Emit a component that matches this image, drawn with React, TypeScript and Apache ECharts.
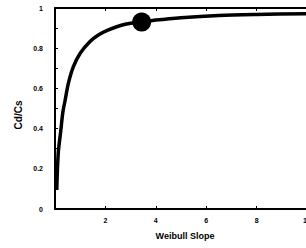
import React, { useEffect, useRef } from "react";
import * as echarts from "echarts";

const slopes = [0.07, 0.13, 0.23, 0.31, 0.4, 0.53, 0.73, 1.0, 1.39, 1.72, 2.1, 2.6, 3.0, 3.44, 4.0, 5.0, 6.5, 8.0, 10];
const ratios = [0.095, 0.28, 0.39, 0.48, 0.54, 0.625, 0.708, 0.775, 0.833, 0.866, 0.89, 0.913, 0.924, 0.93, 0.94, 0.952, 0.963, 0.968, 0.972];
const marker = [[3.44, 0.93]];
const xTicks = [2, 4, 6, 8, 10];
const yTicks = [0, 0.2, 0.4, 0.6, 0.8, 1];

export default function App() {
  const ref = useRef<HTMLDivElement>(null);
  useEffect(() => {
    const chart = echarts.init(ref.current!, null, { renderer: "svg" });
    const font = "Arial, 'Liberation Sans', sans-serif";
    chart.setOption({
      animation: false,
      backgroundColor: "#fff",
      grid: { left: 55, top: 8, width: 252, height: 201, outerBoundsMode: "none", containLabel: false },
      xAxis: [
        {
          type: "value",
          min: 0,
          max: 10,
          interval: 2,
          axisLine: { show: true, onZero: false, lineStyle: { color: "#000", width: 2 } },
          axisTick: { show: true, inside: true, length: 3, lineStyle: { color: "#000" } },
          axisLabel: {
            color: "#000",
            fontSize: 7,
            fontWeight: "bold",
            fontFamily: font,
            margin: 8,
            showMinLabel: false,
            hideOverlap: false,
            formatter: (v: number) => (xTicks.includes(v) ? String(v) : ""),
          },
          splitLine: { show: false },
        },
        {
          type: "value",
          position: "top",
          min: 0,
          max: 10,
          interval: 2,
          axisLine: { show: true, onZero: false, lineStyle: { color: "#000", width: 2 } },
          axisTick: { show: true, inside: true, length: 3, lineStyle: { color: "#000" } },
          axisLabel: { show: false },
          splitLine: { show: false },
        },
      ],
      yAxis: {
        type: "value",
        min: 0,
        max: 1,
        interval: 0.2,
        axisLine: { show: true, onZero: false, lineStyle: { color: "#000", width: 2 } },
        axisTick: { show: true, inside: true, length: 3, lineStyle: { color: "#000" } },
        minorTick: { show: true, splitNumber: 2, length: 3, lineStyle: { color: "#000" } },
        axisLabel: {
          color: "#000",
          fontSize: 7,
          fontWeight: "bold",
          fontFamily: font,
          margin: 12,
          formatter: (v: number) => {
            const t = yTicks.find((y) => Math.abs(y - v) < 1e-6);
            return t === undefined ? "" : String(t);
          },
        },
        splitLine: { show: false },
      },
      graphic: [
        {
          type: "text",
          x: 18,
          y: 115,
          rotation: Math.PI / 2,
          style: {
            text: "Cd/Cs",
            fontSize: 10,
            fontWeight: "bold",
            fontFamily: font,
            fill: "#000",
            align: "center",
            verticalAlign: "middle",
          },
        },
        {
          type: "text",
          x: 185,
          y: 236,
          style: {
            text: "Weibull Slope",
            fontSize: 9,
            fontWeight: "bold",
            fontFamily: font,
            fill: "#000",
            align: "center",
            verticalAlign: "middle",
          },
        },
      ],
      series: [
        {
          type: "line",
          data: slopes.map((x, i) => [x, ratios[i]]),
          smooth: 0.3,
          showSymbol: false,
          lineStyle: { color: "#000", width: 3.5 },
        },
        {
          type: "scatter",
          data: marker,
          symbolSize: 19,
          itemStyle: { color: "#000", opacity: 1 },
        },
      ],
    });
    return () => chart.dispose();
  }, []);
  return <div ref={ref} style={{ position: "absolute", left: 0, top: 0, width: 306, height: 248 }} />;
}
